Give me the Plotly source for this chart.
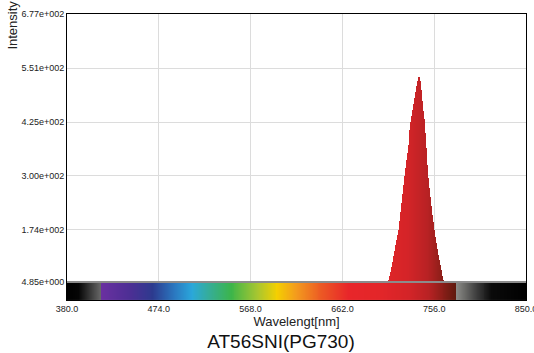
import numpy as np
import plotly.graph_objects as go

# ---- data ----
peak_wavelength = list(range(708, 767))
peak_intensity = [53, 55, 58, 66, 76, 88, 100, 113, 126, 139, 151, 163, 174,
                  195, 216, 237, 258, 279, 300, 318, 336, 354, 372, 390, 408, 425,
                  439, 453, 467, 482, 496, 510, 522, 530, 522, 500, 475, 452, 432,
                  400, 365, 325, 295, 272, 250, 230, 210, 192, 174, 158, 143, 129,
                  116, 104, 92, 80, 67, 56, 53]

x_ticks = [380.0, 474.0, 568.0, 662.0, 756.0, 850.0]
baseline = 52.9
y_ticks = [baseline, 174, 300, 425, 551, 677]
y_tick_labels = ["4.85e+000", "1.74e+002", "3.00e+002", "4.25e+002", "5.51e+002", "6.77e+002"]

# spectrum colour stops (wavelength nm, colour)
spec_wl = [380, 392, 414.9, 415, 445, 468, 490, 508, 525, 548, 575, 595, 615, 640, 668, 700, 730, 750,
           765, 778.9, 779, 800, 815, 850]
spec_col = ["#000000", "#050505", "#6a6a6a", "#6a30a0", "#4c2f94", "#2c3a8e", "#2b78c0", "#2aa8dc",
            "#35ad9a", "#3cb54a", "#a8c630", "#f5d000", "#f39a1e", "#ec5a24", "#e8262a", "#e32629",
            "#d42428", "#b82224", "#8a1e18", "#5e1a0e", "#8a8a86", "#3a3a3a", "#0a0a0a", "#000000"]

title = "AT56SNI(PG730)"
x_title = "Wavelengt[nm]"
y_title = "Intensity"


def hex2rgb(h):
    h = h.lstrip("#")
    return np.array([int(h[i:i + 2], 16) for i in (0, 2, 4)], dtype=float)


spec_rgb = np.array([hex2rgb(c) for c in spec_col])


def color_at(wl):
    r = np.interp(wl, spec_wl, spec_rgb[:, 0])
    g = np.interp(wl, spec_wl, spec_rgb[:, 1])
    b = np.interp(wl, spec_wl, spec_rgb[:, 2])
    return "rgb(%d,%d,%d)" % (round(r), round(g), round(b))


y_lo = 10.9
y_hi = 677

# spectrum strip as heatmap
grid_wl = np.arange(380, 851, 1.0)
edges = np.concatenate([grid_wl - 0.5, [grid_wl[-1] + 0.5]])
edges[0] = 380
edges[-1] = 850
n = len(grid_wl)
cscale = [[i / (n - 1), color_at(w)] for i, w in enumerate(grid_wl)]

fig = go.Figure()
fig.add_trace(go.Heatmap(
    z=[list(grid_wl)], x=edges, y=[y_lo, baseline],
    colorscale=cscale, zmin=380, zmax=850, showscale=False, hoverinfo="skip"))

peak_colors = [color_at(w) for w in peak_wavelength]
fig.add_trace(go.Bar(
    x=peak_wavelength, y=[v - baseline for v in peak_intensity], base=baseline, width=1.6,
    marker=dict(color=peak_colors, line=dict(width=0)),
    showlegend=False))

fig.add_shape(type="line", xref="x", yref="y", x0=380, x1=850, y0=baseline, y1=baseline,
              line=dict(color="#8c8c8c", width=2), layer="above")

fig.update_layout(
    width=534, height=353,
    margin=dict(l=67, r=8, t=14, b=53, autoexpand=False),
    paper_bgcolor="white", plot_bgcolor="white",
    bargap=0,
    font=dict(family="Liberation Sans, Arial, sans-serif", color="#222"),
    showlegend=False,
    title=dict(text=title, x=281 / 534, xref="container", xanchor="center",
               y=(353 - 341.5) / 353, yref="container", yanchor="middle",
               font=dict(size=19, color="#111")),
)

fig.update_xaxes(
    range=[380, 850], tickvals=x_ticks, ticktext=["%.1f" % v for v in x_ticks],
    showgrid=True, gridcolor="#dcdcdc", gridwidth=1, zeroline=False,
    showline=True, linecolor="#000", linewidth=1, mirror=True, automargin=False,
    ticks="", tickfont=dict(size=9, color="#222"), ticklabeloverflow="allow",
    title=dict(text=x_title, font=dict(size=13, color="#222"), standoff=4))
fig.update_yaxes(
    range=[y_lo, y_hi], tickvals=y_ticks, ticktext=y_tick_labels,
    showgrid=True, gridcolor="#dcdcdc", gridwidth=1, zeroline=False,
    showline=True, linecolor="#000", linewidth=1, mirror=True, automargin=False,
    ticks="", tickfont=dict(size=9, color="#222"))

fig.add_annotation(text=y_title, xref="paper", yref="paper", x=-0.118, y=1.055,
                   xanchor="center", yanchor="top", textangle=-90, showarrow=False,
                   font=dict(size=13, color="#222"))

fig.write_html("out.html")
